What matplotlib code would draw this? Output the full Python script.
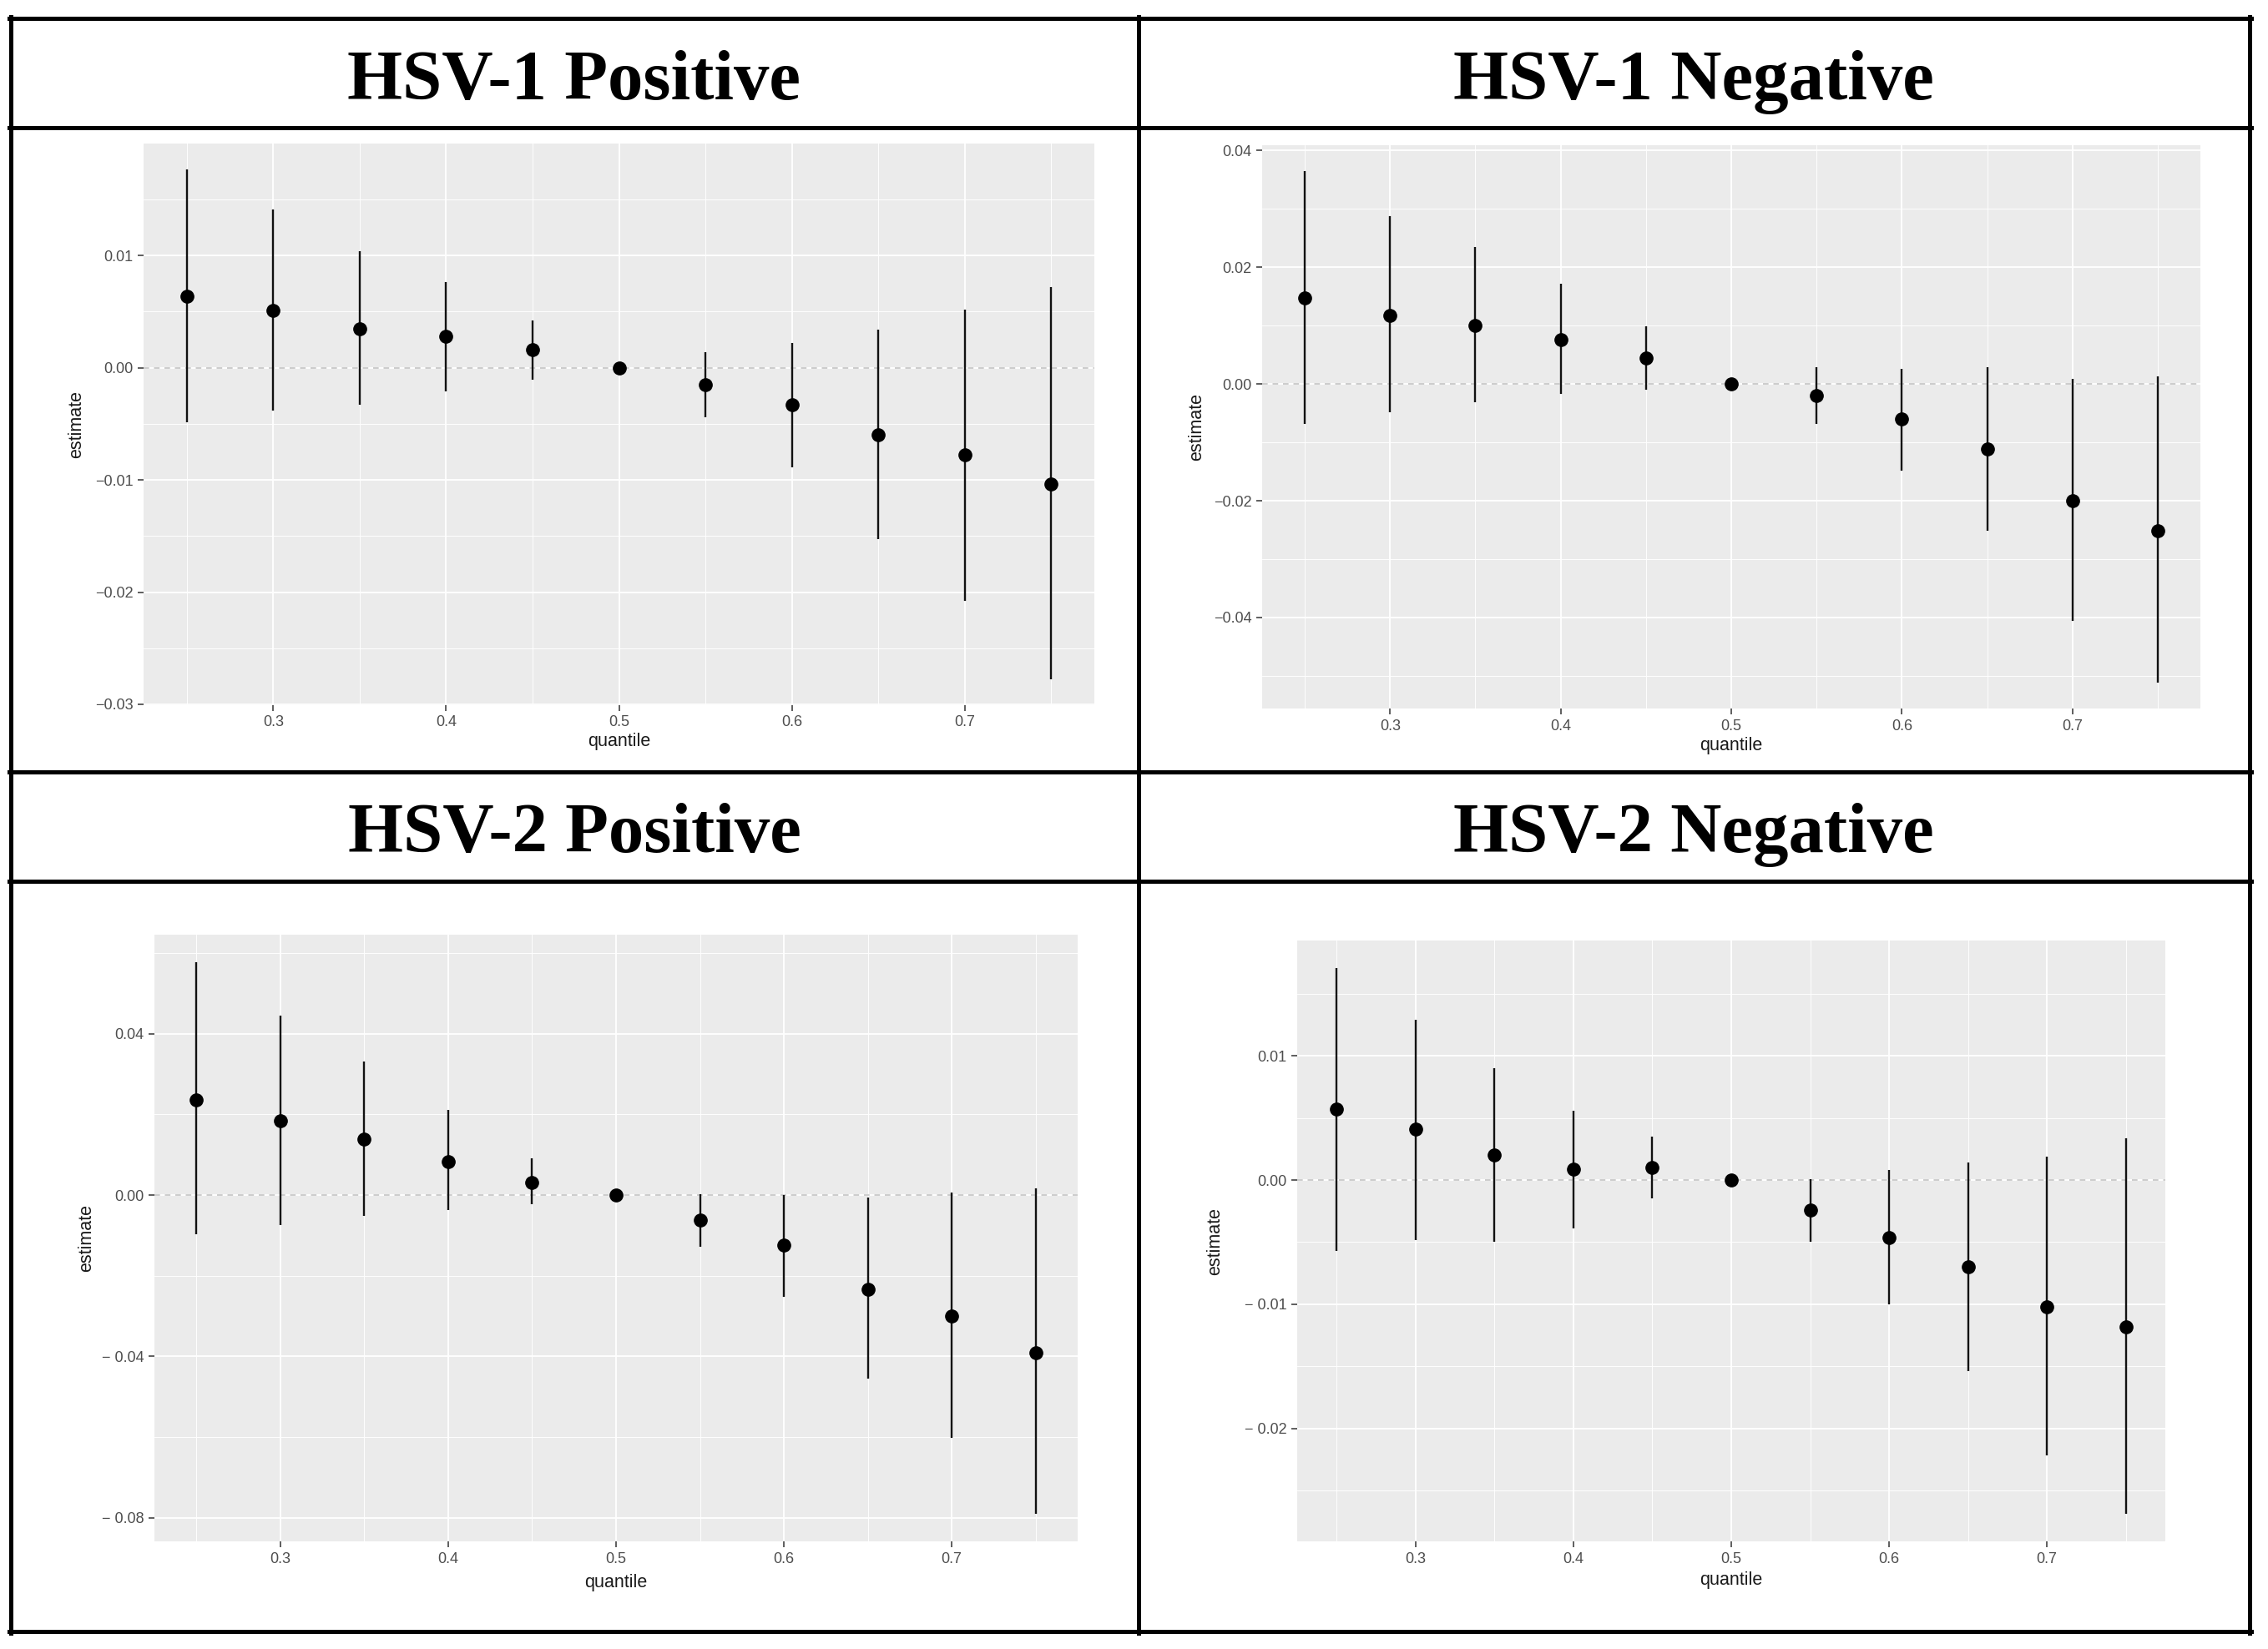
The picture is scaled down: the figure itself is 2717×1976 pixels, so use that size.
import matplotlib
matplotlib.use("Agg")
import matplotlib.pyplot as plt
from matplotlib.lines import Line2D
from matplotlib.ticker import FixedLocator

W, H = 2717, 1976

quantiles = [0.25, 0.30, 0.35, 0.40, 0.45, 0.50, 0.55, 0.60, 0.65, 0.70, 0.75]
x_ticks = [0.3, 0.4, 0.5, 0.6, 0.7]
x_tick_labels = ["0.3", "0.4", "0.5", "0.6", "0.7"]
x_minor = [0.25, 0.35, 0.45, 0.55, 0.65, 0.75]

titles = ["HSV-1 Positive", "HSV-1 Negative", "HSV-2 Positive", "HSV-2 Negative"]

hsv1_pos_est = [0.0064, 0.0051, 0.0035, 0.0028, 0.0016, 0.0, -0.0015, -0.0033, -0.0060, -0.0078, -0.0104]
hsv1_pos_lo = [-0.0049, -0.0038, -0.0033, -0.0021, -0.0011, 0.0, -0.0044, -0.0089, -0.0153, -0.0208, -0.0278]
hsv1_pos_hi = [0.0177, 0.0141, 0.0104, 0.0076, 0.0042, 0.0, 0.0014, 0.0022, 0.0034, 0.0052, 0.0072]

hsv1_neg_est = [0.0148, 0.0118, 0.0100, 0.0076, 0.0044, 0.0, -0.0020, -0.0060, -0.0111, -0.0200, -0.0251]
hsv1_neg_lo = [-0.0069, -0.0048, -0.0031, -0.0017, -0.0010, 0.0, -0.0069, -0.0149, -0.0251, -0.0406, -0.0512]
hsv1_neg_hi = [0.0365, 0.0288, 0.0234, 0.0171, 0.0099, 0.0, 0.0028, 0.0026, 0.0029, 0.0009, 0.0013]

hsv2_pos_est = [0.0236, 0.0185, 0.0139, 0.0083, 0.0032, 0.0, -0.0063, -0.0125, -0.0234, -0.0300, -0.0391]
hsv2_pos_lo = [-0.0097, -0.0074, -0.0051, -0.0038, -0.0022, 0.0, -0.0128, -0.0253, -0.0455, -0.0601, -0.0790]
hsv2_pos_hi = [0.0577, 0.0445, 0.0330, 0.0210, 0.0090, 0.0, 0.0003, 0.0000, -0.0006, 0.0007, 0.0017]

hsv2_neg_est = [0.0057, 0.0041, 0.0020, 0.0009, 0.0010, 0.0, -0.0024, -0.0046, -0.0070, -0.0102, -0.0118]
hsv2_neg_lo = [-0.0057, -0.0048, -0.0050, -0.0039, -0.0015, 0.0, -0.0050, -0.0100, -0.0154, -0.0222, -0.0269]
hsv2_neg_hi = [0.0171, 0.0129, 0.0090, 0.0056, 0.0035, 0.0, 0.0001, 0.0008, 0.0014, 0.0019, 0.0034]

y_ticks_1 = [0.01, 0.00, -0.01, -0.02, -0.03]
y_labels_1 = ["0.01", "0.00", "\u22120.01", "\u22120.02", "\u22120.03"]
y_minor_1 = [0.015, 0.005, -0.005, -0.015, -0.025]

y_ticks_2 = [0.04, 0.02, 0.00, -0.02, -0.04]
y_labels_2 = ["0.04", "0.02", "0.00", "\u22120.02", "\u22120.04"]
y_minor_2 = [0.03, 0.01, -0.01, -0.03, -0.05]

y_ticks_3 = [0.04, 0.00, -0.04, -0.08]
y_labels_3 = ["0.04", "0.00", "\u2212 0.04", "\u2212 0.08"]
y_minor_3 = [0.06, 0.02, -0.02, -0.06]

y_ticks_4 = [0.01, 0.00, -0.01, -0.02]
y_labels_4 = ["0.01", "0.00", "\u2212 0.01", "\u2212 0.02"]
y_minor_4 = [0.015, 0.005, -0.005, -0.015, -0.025]

panels = [
    (hsv1_pos_est, hsv1_pos_lo, hsv1_pos_hi, y_ticks_1, y_labels_1, y_minor_1),
    (hsv1_neg_est, hsv1_neg_lo, hsv1_neg_hi, y_ticks_2, y_labels_2, y_minor_2),
    (hsv2_pos_est, hsv2_pos_lo, hsv2_pos_hi, y_ticks_3, y_labels_3, y_minor_3),
    (hsv2_neg_est, hsv2_neg_lo, hsv2_neg_hi, y_ticks_4, y_labels_4, y_minor_4),
]

# axes rectangles in pixels: (left, top, right, bottom)
rects = [(172, 172, 1311, 845), (1512, 174, 2636, 849),
         (185, 1120, 1291, 1847), (1554, 1127, 2594, 1847)]
ylabel_right = [102, 1444, 114, 1466]
xlabel_gap = [33, 34, 39, 36]

# title cells (center x, baseline y)
title_pos = [(688, 119), (2029, 119), (688, 1021), (2029, 1021)]

fig = plt.figure(figsize=(W / 100, H / 100), dpi=100)
fig.patch.set_facecolor("white")

sans = ["Liberation Sans", "DejaVu Sans"]

for i, (est, lo, hi, yt, yl, ym) in enumerate(panels):
    l, t, r, b = rects[i]
    ax = fig.add_axes([l / W, 1 - b / H, (r - l) / W, (b - t) / H])
    ax.set_facecolor("#EBEBEB")
    for s in ax.spines.values():
        s.set_visible(False)
    ymin, ymax = min(lo), max(hi)
    pad = 0.05 * (ymax - ymin)
    ax.set_ylim(ymin - pad, ymax + pad)
    ax.set_xlim(0.225, 0.775)
    ax.xaxis.set_major_locator(FixedLocator(x_ticks))
    ax.set_xticklabels(x_tick_labels)
    ax.xaxis.set_minor_locator(FixedLocator(x_minor))
    ax.yaxis.set_major_locator(FixedLocator(yt))
    ax.set_yticklabels(yl)
    ax.yaxis.set_minor_locator(FixedLocator(ym))
    ax.grid(which="major", color="white", linewidth=1.3)
    ax.grid(which="minor", color="white", linewidth=0.65)
    ax.set_axisbelow(True)
    ax.tick_params(which="major", length=5, width=1.1, color="#333333",
                   labelcolor="#4D4D4D", labelsize=13, pad=4)
    ax.tick_params(which="minor", length=0)
    for lab in ax.get_xticklabels() + ax.get_yticklabels():
        lab.set_family(sans)
    ax.axhline(0, color="#C4C4C4", linewidth=1.2, linestyle=(0, (4, 3.5)), zorder=1)
    ax.vlines(quantiles, lo, hi, color="#111111", linewidth=1.7, zorder=2)
    ax.plot(quantiles, est, "o", color="black", markersize=11, zorder=3)
    ax.set_xlabel("quantile", fontsize=15.5, color="#1A1A1A", family=sans)
    ax.set_ylabel("estimate", fontsize=15.5, color="#1A1A1A", family=sans)
    ax.xaxis.set_label_coords(0.5, -xlabel_gap[i] / (b - t))
    ax.yaxis.set_label_coords((ylabel_right[i] - l) / (r - l), 0.5)

    tx, ty = title_pos[i]
    fig.text(tx / W, 1 - ty / H, titles[i], ha="center", va="baseline",
             fontsize=61, fontweight="bold", family=["Liberation Serif", "DejaVu Serif"])

# table lines
lw = 3.6
hlines_y = [22.5, 153.5, 924.5, 1056, 1955]
vlines_x = [13, 1363.5, 2695]
for y in hlines_y:
    fig.add_artist(Line2D([11 / W, 2697 / W], [1 - y / H, 1 - y / H], color="black",
                          linewidth=lw, solid_capstyle="projecting"))
for x in vlines_x:
    fig.add_artist(Line2D([x / W, x / W], [1 - 20.5 / H, 1 - 1957 / H], color="black",
                          linewidth=lw, solid_capstyle="projecting"))

fig.savefig("out.png", dpi=100, facecolor="white")
